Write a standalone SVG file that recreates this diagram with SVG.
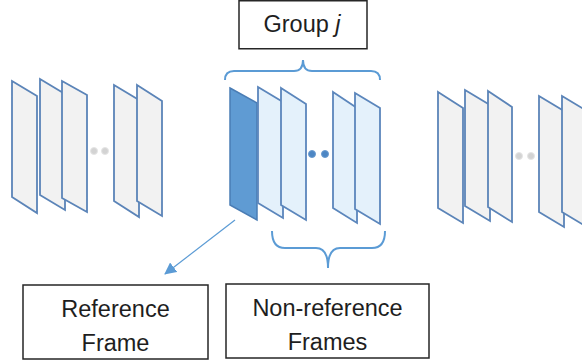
<svg xmlns="http://www.w3.org/2000/svg" width="582" height="364" viewBox="0 0 582 364">
<defs>
<style>
.gf{fill:#F2F2F2;stroke:#5B84B8;stroke-width:1.8;stroke-linejoin:miter}
.lf{fill:#E4F1FB;stroke:#5B86BC;stroke-width:1.8}
.rf{fill:#5F9BD3;stroke:#4A7DB5;stroke-width:1.5}
.gd{fill:#D3D3D3;stroke:#E6E6E6;stroke-width:1}
.bd{fill:#4C86C4;stroke:#6A9BD0;stroke-width:1}
.br{fill:none;stroke:#5B9BD5;stroke-width:2}
.box{fill:#FFFFFF;stroke:#262626;stroke-width:1.5}
.t{font-family:"Liberation Sans",Arial,sans-serif;font-size:23.5px;fill:#1E1E1E;text-anchor:middle}
</style>
<marker id="ah" viewBox="0 0 12 12" refX="11" refY="6" markerWidth="12" markerHeight="12" markerUnits="userSpaceOnUse" orient="auto">
<path d="M0,0 L12,6 L0,12 z" fill="#5B9BD5"/>
</marker>
</defs>
<rect width="582" height="364" fill="#FFFFFF"/>

<g id="group-left">
<polygon class="gf" points="12,81 37,96 37,213 12,197"/>
<polygon class="gf" points="40,79 65,94 65,210 40,195"/>
<polygon class="gf" points="62,81 87,95 87,212 62,198"/>
<circle class="gd" cx="94" cy="151" r="3.5"/>
<circle class="gd" cx="105" cy="151" r="3.5"/>
<polygon class="gf" points="114,85 139,100 139,217 114,201"/>
<polygon class="gf" points="137,85 162,101 162,216 137,201"/>
</g>

<g id="group-j">
<polygon class="rf" points="230,88 257,103 257,220 230,205"/>
<polygon class="lf" points="258,87 283,102 283,218 258,203"/>
<polygon class="lf" points="281,88 306,104 306,220 281,205"/>
<circle class="bd" cx="312" cy="154" r="3.5"/>
<circle class="bd" cx="325" cy="154" r="3.5"/>
<polygon class="lf" points="333,92 357,108 357,223 333,208"/>
<polygon class="lf" points="355,93 380,108 380,224 355,209"/>
</g>

<g id="group-right">
<polygon class="gf" points="438,92 463,108 463,223 438,208"/>
<polygon class="gf" points="465,90 490,105 490,221 465,206"/>
<polygon class="gf" points="488,91 512,107 512,222 488,207"/>
<circle class="gd" cx="519" cy="156" r="3.5"/>
<circle class="gd" cx="531" cy="156" r="3.5"/>
<polygon class="gf" points="539,96 564,111 564,227 539,212"/>
<polygon class="gf" points="562,96 587,111 587,227 562,212"/>
</g>

<g id="label-group">
<rect class="box" x="239" y="0.75" width="128" height="48"/>
<text class="t" x="302" y="32">Group <tspan font-style="italic">j</tspan></text>
</g>

<g id="label-reference">
<rect class="box" x="23" y="285" width="185" height="74"/>
<text class="t" x="115.5" y="317">Reference</text>
<text class="t" x="115.5" y="351">Frame</text>
</g>

<g id="label-nonreference">
<rect class="box" x="226" y="284" width="203" height="74"/>
<text class="t" x="327.5" y="316">Non-reference</text>
<text class="t" x="327.5" y="350">Frames</text>
</g>

<g id="connectors">
<path class="br" d="M225,80 Q225,71 234,71 L294,71 Q303,71 303,60 Q303,71 312,71 L371,71 Q380,71 380,80"/>
<path class="br" d="M272,231 Q272,248 285,248 L316,248 Q328,248 328,268 Q328,248 340,248 L372,248 Q385,248 385,231"/>
<line x1="235" y1="220" x2="165" y2="274" stroke="#5B9BD5" stroke-width="1.2" marker-end="url(#ah)"/>
</g>
</svg>
